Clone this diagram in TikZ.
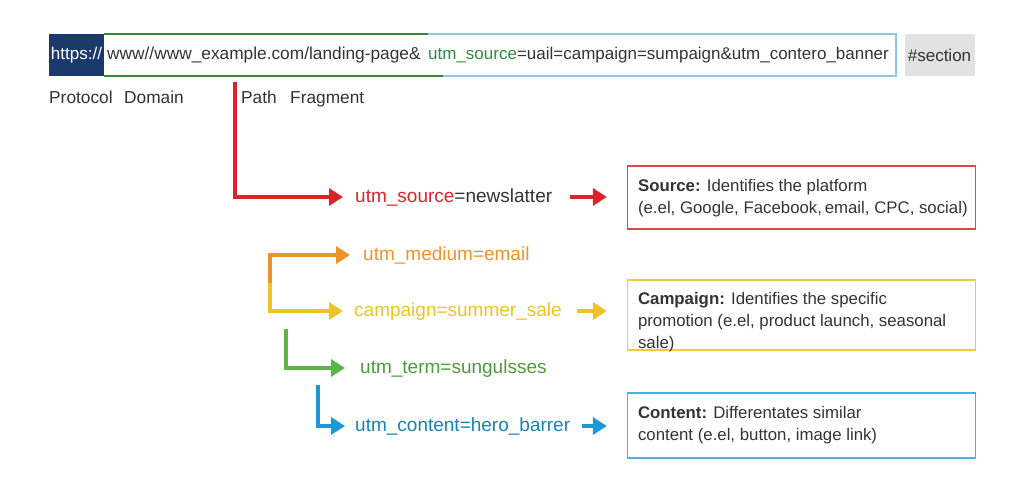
\documentclass[tikz,border=0pt]{standalone}
\usepackage{fontspec}
\setmainfont{Liberation Sans}
\usetikzlibrary{arrows.meta}

\definecolor{urlblue}{HTML}{1B3A6B}
\definecolor{urlgreen}{HTML}{2E8B3E}
\definecolor{urlcyan}{HTML}{8EC8E2}
\definecolor{fraggray}{HTML}{E2E2E2}
\definecolor{txtgray}{HTML}{333333}
\definecolor{utmred}{HTML}{D9252A}
\definecolor{utmorange}{HTML}{F0922A}
\definecolor{utmyellow}{HTML}{F1C12A}
\definecolor{utmgreen}{HTML}{5BB445}
\definecolor{utmblue}{HTML}{1A9AD6}
\definecolor{boxred}{HTML}{DC4A4A}
\definecolor{boxyellow}{HTML}{F0CB3C}
\definecolor{boxblue}{HTML}{45B3E0}

\begin{document}
\begin{tikzpicture}[x=1pt,y=-1pt,
  urltext/.style={inner sep=0pt,anchor=west,text height=12.5pt,text depth=3.5pt,font=\fontsize{17.3}{20}\selectfont,text=txtgray},
  param/.style={inner sep=0pt,anchor=west,text height=14pt,text depth=4pt,font=\fontsize{19}{22}\selectfont},
  flow/.style={line width=3.5pt,-{Triangle[length=14pt,width=17pt]}},
  infobox/.style={draw,line width=1.3pt,minimum width=348pt,inner sep=0pt},
  note/.style={inner sep=0pt,anchor=north west,align=left,text=txtgray,font=\fontsize{16.8}{22}\selectfont}]
% 边界
\useasboundingbox (0,0) rectangle (1024,490);

% 第1行 网址
\node[fill=urlblue,text=white,minimum width=55pt,minimum height=42pt,inner sep=0pt,font=\fontsize{17}{20}\selectfont] (proto) at (76.5,55) {https://};
\node[urltext] (domain) at (107,55) {www//www\_example.com/landing-page\&};
\node[urltext,font=\fontsize{17}{20}\selectfont] (query) at (428,55) {\textcolor{urlgreen}{utm\_source}=uail=campaign=sumpaign\&utm\_contero\_banner};
\node[fill=fraggray,minimum width=70pt,minimum height=42pt,inner sep=0pt,text=txtgray,font=\fontsize{17}{20}\selectfont] (frag) at (939.5,55) {\#section};
\draw[urlgreen,line width=1.5pt] (104,34) -- (428,34);
\draw[urlgreen,line width=1.5pt] (104,76) -- (443,76);
\draw[urlcyan,line width=1.5pt] (428,34) -| (896,76) -- (443,76);

% 第2行 标签
\node[urltext] (lproto) at (49,99) {Protocol};
\node[urltext] (ldomain) at (124,99) {Domain};
\node[urltext] (lpath) at (241,99) {Path};
\node[urltext] (lfrag) at (290,99) {Fragment};

% 参数
\node[param] (src) at (355,197) {\textcolor{utmred}{utm\_source}\textcolor{txtgray}{=newslatter}};
\node[param,text=utmorange] (med) at (363,255) {utm\_medium=email};
\node[param,text=utmyellow] (camp) at (354,311) {campaign=summer\_sale};
\node[param,text=utmgreen!85!black] (term) at (360,368) {utm\_term=sungulsses};
\node[param,text=utmblue!85!black] (cont) at (355,426) {utm\_content=hero\_barrer};

% 说明框
\node[infobox,draw=boxred,minimum height=63pt] (srcbox) at (801.5,197.5) {};
\node[note] (srcnote) at ([xshift=11pt,yshift=-14pt]srcbox.north west) {\textbf{Source:} Identifies the platform\\(e.el, Google, Facebook,\,email, CPC, social)};
\node[infobox,draw=boxyellow,minimum height=70pt] (campbox) at (801.5,315) {};
\node[note] (campnote) at ([xshift=11pt,yshift=-13pt]campbox.north west) {\textbf{Campaign:} Identifies the specific\\promotion (e.el, product launch, seasonal\\sale)};
\node[infobox,draw=boxblue,minimum height=65pt] (contbox) at (801.5,425.5) {};
\node[note] (contnote) at ([xshift=11pt,yshift=-14pt]contbox.north west) {\textbf{Content:} Differentates similar\\content (e.el, button, image link)};

% ========== 连线 ==========
\coordinate (redtop) at (235,82);
\coordinate (fork) at (270,283);
\coordinate (termtop) at (286,329);
\coordinate (conttop) at (318,385);

% 左侧折线
\draw[flow,utmred,shorten >=12pt] (redtop) |- (src.west);
\draw[flow,utmorange,shorten >=13pt] (fork) |- (med.west);
\draw[flow,utmyellow,shorten >=11pt] (fork) |- (camp.west);
\draw[flow,utmgreen,shorten >=15pt] (termtop) |- (term.west);
\draw[flow,utmblue,shorten >=10pt] (conttop) |- (cont.west);

% 参数 -> 说明框
\draw[flow,utmred,shorten <=18pt,shorten >=20pt] (src.east) -- (src.east -| srcbox.west);
\draw[flow,utmyellow,shorten <=15pt,shorten >=20pt] (camp.east) -- (camp.east -| campbox.west);
\draw[flow,utmblue,shorten <=12pt,shorten >=20pt] (cont.east) -- (cont.east -| contbox.west);
\end{tikzpicture}
\end{document}
